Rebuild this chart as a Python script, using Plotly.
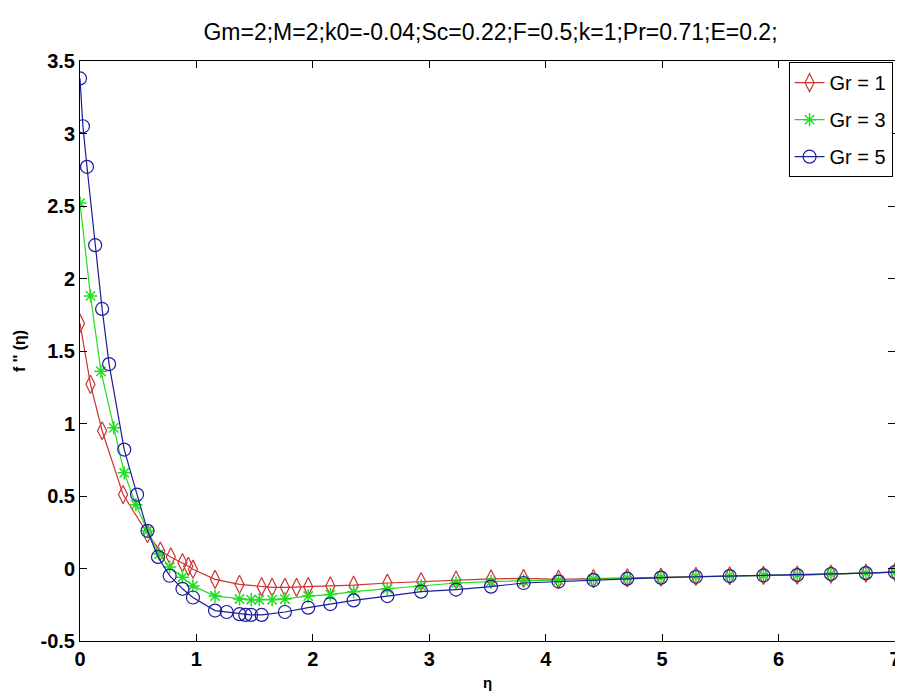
import plotly.graph_objects as go

title_text = "Gm=2;M=2;k0=-0.04;Sc=0.22;F=0.5;k=1;Pr=0.71;E=0.2;"

x_gr1 = [0, 0.09, 0.19, 0.37, 0.58, 0.69, 0.78, 0.88, 0.93, 0.97, 1.16, 1.37, 1.56, 1.65, 1.76, 1.86,
         1.96, 2.15, 2.35, 2.64, 2.93, 3.23, 3.53, 3.81, 4.11, 4.41, 4.70, 4.99, 5.29, 5.58, 5.87,
         6.16, 6.45, 6.75, 7.0]
y_gr1 = [1.69, 1.27, 0.95, 0.51, 0.24, 0.12, 0.08, 0.04, 0.015, -0.005, -0.075, -0.11, -0.125, -0.13,
         -0.13, -0.13, -0.125, -0.12, -0.115, -0.10, -0.09, -0.08, -0.072, -0.068, -0.075, -0.07,
         -0.065, -0.06, -0.055, -0.05, -0.048, -0.045, -0.038, -0.032, -0.025]

x_gr3 = [0, 0.09, 0.18, 0.29, 0.38, 0.48, 0.58, 0.68, 0.77, 0.88, 0.97, 1.16, 1.37, 1.47, 1.54, 1.65,
         1.76, 1.96, 2.15, 2.35, 2.64, 2.93, 3.23, 3.53, 3.81, 4.11, 4.41, 4.70, 4.99, 5.29, 5.58,
         5.87, 6.16, 6.45, 6.75, 7.0]
y_gr3 = [2.52, 1.88, 1.36, 0.97, 0.66, 0.44, 0.26, 0.10, 0.01, -0.06, -0.12, -0.19, -0.21, -0.215,
         -0.215, -0.215, -0.21, -0.19, -0.18, -0.16, -0.14, -0.12, -0.10, -0.09, -0.085, -0.08,
         -0.072, -0.066, -0.06, -0.055, -0.05, -0.048, -0.045, -0.038, -0.032, -0.025]

x_gr5 = [0, 0.025, 0.06, 0.13, 0.19, 0.25, 0.38, 0.49, 0.58, 0.67, 0.77, 0.88, 0.97, 1.16, 1.26, 1.37,
         1.42, 1.47, 1.56, 1.76, 1.96, 2.15, 2.35, 2.64, 2.93, 3.23, 3.53, 3.81, 4.11, 4.41, 4.70,
         4.99, 5.29, 5.58, 5.87, 6.16, 6.45, 6.75, 7.0]
y_gr5 = [3.38, 3.05, 2.77, 2.23, 1.79, 1.41, 0.82, 0.51, 0.26, 0.08, -0.05, -0.14, -0.20, -0.29, -0.30,
         -0.315, -0.32, -0.32, -0.32, -0.30, -0.27, -0.245, -0.22, -0.19, -0.16, -0.145, -0.125, -0.10,
         -0.09, -0.08, -0.07, -0.063, -0.057, -0.052, -0.048, -0.045, -0.038, -0.032, -0.025]

series_names = ["Gr = 1", "Gr = 3", "Gr = 5"]
x_ticks = [0, 1, 2, 3, 4, 5, 6, 7]
y_ticks = [-0.5, 0, 0.5, 1, 1.5, 2, 2.5, 3, 3.5]
y_tick_labels = ["-0.5", "0", "0.5", "1", "1.5", "2", "2.5", "3", "3.5"]

FONT = "Liberation Sans, Arial"

fig = go.Figure()
fig.add_trace(go.Scatter(x=x_gr1, y=y_gr1, name=series_names[0], legendgroup="g1", mode="lines+markers",
                         line=dict(color="#cc3333", width=1.2),
                         marker=dict(symbol="diamond-tall-open", size=13, color="#cc3333",
                                     line=dict(width=1.2, color="#cc3333"))))
fig.add_trace(go.Scatter(x=x_gr3, y=y_gr3, name=series_names[1], legendgroup="g3", mode="lines+markers",
                         line=dict(color="#22dd22", width=1.2),
                         marker=dict(symbol="asterisk-open", size=11, color="#22dd22",
                                     line=dict(width=1.5, color="#22dd22"))))
fig.add_trace(go.Scatter(x=x_gr5, y=y_gr5, name=series_names[2], legendgroup="g5", mode="lines+markers",
                         line=dict(color="#1c1c9c", width=1.2),
                         marker=dict(symbol="circle-open", size=13, color="#1c1c9c",
                                     line=dict(width=1.2, color="#1c1c9c"))))

axis_common = dict(showgrid=False, zeroline=False, showline=True, linecolor="black", linewidth=1,
                   mirror="ticks", ticks="inside", ticklen=7, tickcolor="black",
                   ticklabeloverflow="allow",
                   tickfont=dict(family=FONT, size=20, color="black", weight="bold"))

fig.update_layout(
    width=903, height=693,
    margin=dict(l=72, r=10, t=53, b=60),
    paper_bgcolor="white", plot_bgcolor="white",
    title=dict(text=title_text, x=(72 + 893) / 2 / 903, xanchor="center", y=1 - 24 / 693, yanchor="middle",
               font=dict(family=FONT, size=23, color="black")),
    xaxis=dict(range=[0, 7], tickvals=x_ticks, **axis_common,
               title=dict(text="<b>η</b>", font=dict(family=FONT, size=15, color="black"),
                          standoff=8)),
    yaxis=dict(range=[-0.5, 3.5], tickvals=y_ticks, ticktext=y_tick_labels, **axis_common,
               title=dict(text="<b>f '' (η)</b>", font=dict(family=FONT, size=16, color="black"),
                          standoff=10)),
    legend=dict(x=0.997, y=0.998, xanchor="right", yanchor="top", bgcolor="white",
                bordercolor="black", borderwidth=1,
                font=dict(family=FONT, size=20, color="black"),
                itemwidth=30, tracegroupgap=8),
    showlegend=True,
)

fig.write_html("out.html")
